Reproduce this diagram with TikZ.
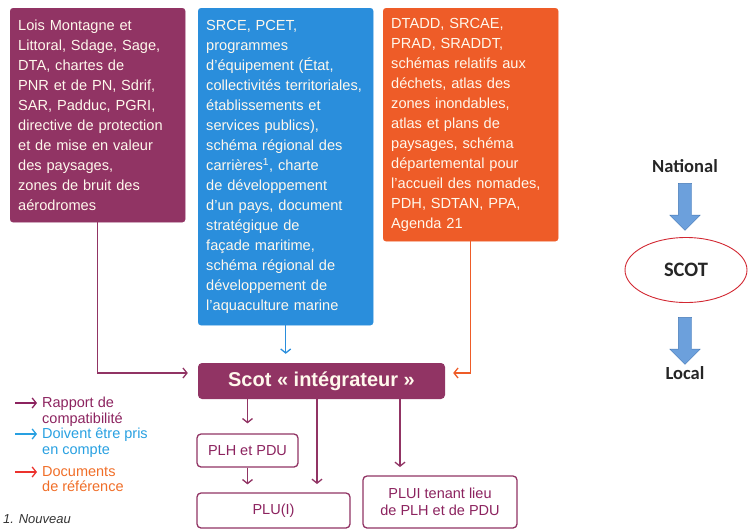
\documentclass[tikz,border=0pt]{standalone}
\usepackage{fontspec}
\setmainfont{Liberation Sans}
\newfontfamily\calib{Carlito}
\usetikzlibrary{positioning,arrows.meta,shapes.geometric,shapes.arrows}
\hyphenpenalty=10000
\exhyphenpenalty=10000

\definecolor{plum}{RGB}{145,52,100}
\definecolor{sky}{RGB}{42,142,220}
\definecolor{tang}{RGB}{238,92,40}
\definecolor{cream}{RGB}{255,248,236}
\definecolor{legplum}{RGB}{140,35,95}
\definecolor{legsky}{RGB}{40,160,225}
\definecolor{legtang}{RGB}{240,110,40}
\definecolor{legred}{RGB}{236,50,45}
\definecolor{blockfill}{RGB}{108,160,220}
\definecolor{blockline}{RGB}{70,120,180}
\definecolor{ringred}{RGB}{210,40,50}

\tikzset{
  doc/.style={draw=#1, fill=#1, rounded corners=3pt, text=cream, anchor=north west,
    align=left, inner xsep=8pt, text width=159pt, font=\fontsize{14.6}{20}\selectfont},
  plan/.style={draw=plum, line width=1.3pt, rounded corners=4pt, fill=white,
    text=legplum, align=center, font=\fontsize{14.5}{17.5}\selectfont},
  lien/.style={line width=1.3pt, draw=#1, -{Straight Barb[length=4pt,width=10pt]}},
  legende/.style={anchor=north west, inner sep=0pt, align=left, text=#1,
    font=\fontsize{14.5}{15.5}\selectfont},
  bloc/.style={single arrow, rotate=-90, fill=blockfill, draw=blockline,
    inner xsep=0pt, inner ysep=6.5pt, minimum height=47pt, single arrow head extend=8.5pt},
  niveau/.style={font=\calib\bfseries\fontsize{18.5}{22}\selectfont, text=black!85}
}

\begin{document}
\begin{tikzpicture}[x=1pt, y=-1pt]
\useasboundingbox (0,0) rectangle (750,531);

% documents de rang superieur
\node[doc=plum, minimum height=214pt] (lois) at (10,8) {Lois Montagne et\\
  Littoral, Sdage, Sage,\\ DTA, chartes de\\ PNR et de PN, Sdrif,\\
  SAR, Padduc, PGRI,\\ directive de protection\\ et de mise en valeur\\
  des paysages,\\ zones de bruit des\\ aérodromes};
\node[doc=sky, minimum height=317pt] (srce) at (198,8) {SRCE, PCET,\\ programmes\\
  d’équipement (État,\\ collectivités territoriales,\\ établissements et\\
  services publics),\\ schéma régional des\\ carrières\textsuperscript{1}, charte\\
  de développement\\ d’un pays, document\\ stratégique de\\ façade maritime,\\
  schéma régional de\\ développement de\\ l’aquaculture marine};
\node[doc=tang, minimum height=233pt] (dtadd) at (383,8) {DTADD, SRCAE,\\
  PRAD, SRADDT,\\ schémas relatifs aux\\ déchets, atlas des\\ zones inondables,\\
  atlas et plans de\\ paysages, schéma\\ départemental pour\\
  l’accueil des nomades,\\ PDH, SDTAN, PPA,\\ Agenda 21};

% scot et documents locaux
\node[fill=plum, rounded corners=4pt, minimum width=247pt, minimum height=36pt,
  text=cream, font=\bfseries\fontsize{20}{22}\selectfont] (scot) at (321.5,381)
  {Scot « intégrateur »};
\node[plan, minimum width=101pt, minimum height=33pt] (plh) at (247.5,450.5) {PLH et PDU};
\node[plan, minimum width=153pt, minimum height=35pt] (plu) at (273.5,510.5) {PLU(I)};
\node[plan, minimum width=154pt, minimum height=52pt] (plui) at (440,502)
  {PLUI tenant lieu\\ de PLH et de PDU};
\coordinate (pluIn) at (317,493);
\coordinate (pluiIn) at (400,476);

\draw[lien=plum, shorten >=10pt] (lois.south) |- ([yshift=8pt]scot.west);
\draw[lien=sky, shorten >=9pt] (srce.south) -- (srce.south |- scot.north);
\draw[lien=tang, shorten >=8pt] (dtadd.south) |- ([yshift=8pt]scot.east);
\draw[lien=plum, shorten >=10pt] (scot.south -| plh.north) -- (plh.north);
\draw[lien=plum, shorten >=9pt] (scot.south -| pluIn) -- (pluIn);
\draw[lien=plum, shorten >=8pt] (plh.south) -- (plh.south |- plu.north);
\draw[lien=plum, shorten >=9pt] (scot.south -| pluiIn) -- (pluiIn);

% legende
\coordinate (kA) at (15,403);
\coordinate (kB) at (15,434);
\coordinate (kC) at (15,472);
\draw[lien=legplum] (kA) -- ++(22,0);
\draw[lien=legsky] (kB) -- ++(22,0);
\draw[lien=legred] (kC) -- ++(22,0);
\node[legende=legplum] (legA) at (42,397) {Rapport de\\ compatibilité};
\node[legende=legsky] (legB) at (42,428) {Doivent être pris\\ en compte};
\node[legende=legtang] (legC) at (42,466) {Documents\\ de référence};
\node[anchor=west, inner sep=0pt, font=\itshape\fontsize{13}{15}\selectfont,
  text=black!80] (note) at (3,519) {1. Nouveau};

% echelle
\node[niveau] (nat) at (685,166) {National};
\node[bloc] (flA) at (685,203.5) {};
\node[ellipse, draw=ringred, line width=0.9pt, minimum width=122pt, minimum height=65pt,
  niveau, font=\calib\bfseries\fontsize{20.5}{24}\selectfont] (scotB) at (686,270) {SCOT};
\node[bloc] (flB) at (685,337.5) {};
\node[niveau] (loc) at (685,373) {Local};
\end{tikzpicture}
\end{document}
